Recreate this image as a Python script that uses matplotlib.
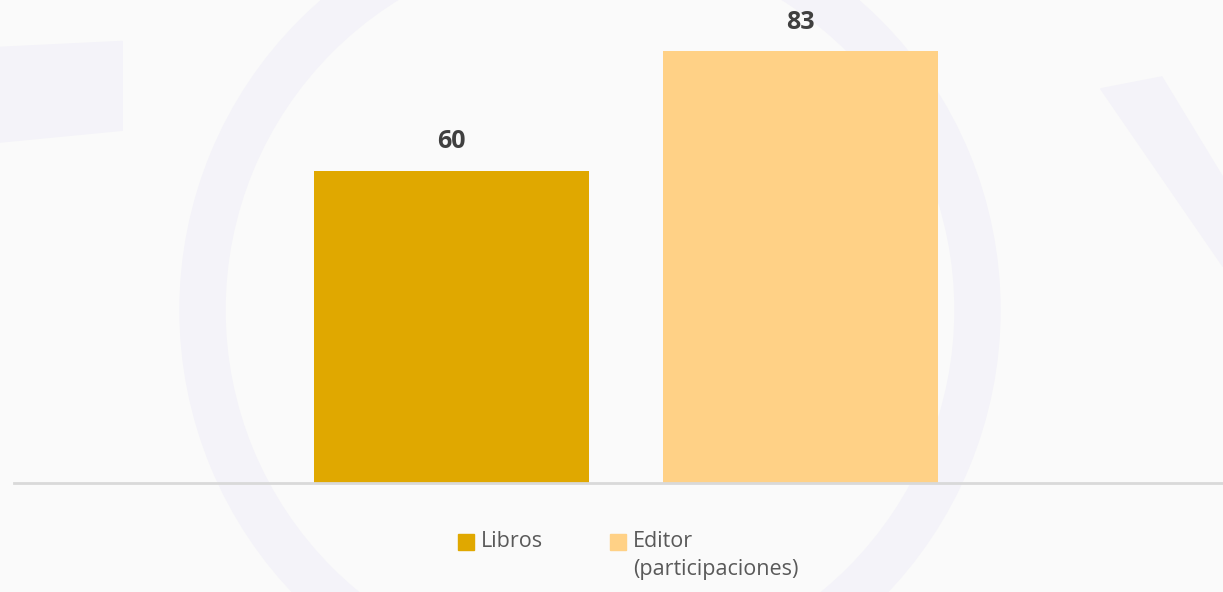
import matplotlib
matplotlib.use('Agg')
import matplotlib.pyplot as plt
from matplotlib.patches import Rectangle, Wedge, Polygon

# data
categories = ['Libros', 'Editor\n(participaciones)']
values = [60, 83]
colors = ['#E0A800', '#FFD186']

plt.rcParams['font.family'] = ['Open Sans', 'DejaVu Sans']

fig = plt.figure(figsize=(12.23, 5.92), dpi=100)
fig.patch.set_facecolor('#FAFAFA')

# faint watermark in the background
wm = '#F4F3F9'
fig.add_artist(Wedge((5.9, 5.92 - 3.1), 4.1, 0, 360, width=0.45,
                     transform=fig.dpi_scale_trans, color=wm, zorder=0))
fig.add_artist(Polygon([(0.0, 0.92), (0.10, 0.93), (0.10, 0.78), (0.0, 0.76)],
                       transform=fig.transFigure, color=wm, zorder=0))
fig.add_artist(Polygon([(0.90, 0.85), (0.95, 0.87), (1.0, 0.70), (1.0, 0.55)],
                       transform=fig.transFigure, color=wm, zorder=0))

ax = fig.add_axes([14 / 1223, 1 - 483 / 592, 1 - 14 / 1223, 483 / 592])
ax.patch.set_alpha(0)

x = [0, 1]
bars = ax.bar(x, values, width=0.788, color=colors, zorder=2)
ax.set_xlim(-1.2536, 2.2106)
ax.set_ylim(0, 483 / 5.2)

for b, v in zip(bars, values):
    ax.text(b.get_x() + b.get_width() / 2, v + 5.6, str(v), ha='center', va='center',
            fontsize=18, fontweight='bold', color='#404040')

for s in ['top', 'right', 'left']:
    ax.spines[s].set_visible(False)
ax.spines['bottom'].set_color('#D9D9D9')
ax.spines['bottom'].set_linewidth(2)
ax.set_xticks([])
ax.set_yticks([])

# legend, handles aligned with the first line of text
W, H = 1223, 592
lx = [458, 610]
for px, lab, c in zip(lx, categories, colors):
    fig.add_artist(Rectangle((px / W, 1 - 550 / H), 16 / W, 16 / H,
                             transform=fig.transFigure, color=c))
    fig.text((px + 23) / W, 1 - 531 / H, lab, ha='left', va='top',
             fontsize=15.5, color='#595959', linespacing=1.45)

fig.savefig('out.png', dpi=100, facecolor=fig.get_facecolor())
